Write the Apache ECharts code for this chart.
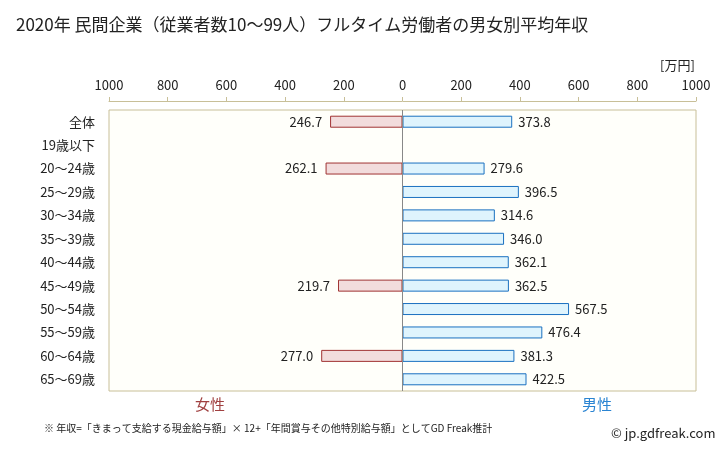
<!DOCTYPE html>
<html><head><meta charset="utf-8">
<script src="https://cdn.jsdelivr.net/npm/echarts@6/dist/echarts.min.js"></script>
<style>html,body{margin:0;padding:0;background:#fff}#c{width:728px;height:451px}</style>
</head><body><div id="c"></div>
<script>
const categories = ['全体','19歳以下','20〜24歳','25〜29歳','30〜34歳','35〜39歳','40〜44歳','45〜49歳','50〜54歳','55〜59歳','60〜64歳','65〜69歳'];
const femaleValues = [246.7, null, 262.1, null, null, null, null, 219.7, null, null, 277.0, null];
const maleValues = [373.8, null, 279.6, 396.5, 314.6, 346.0, 362.1, 362.5, 567.5, 476.4, 381.3, 422.5];
const tickValues = [-1000,-800,-600,-400,-200,0,200,400,600,800,1000];

const FONT = '"Noto Sans CJK JP", "Noto Sans", sans-serif';
const chart = echarts.init(document.getElementById('c'), null, {renderer:'canvas'});
chart.setOption({
  animation: false,
  textStyle: {fontFamily: FONT},
  title: {text: '2020年 民間企業（従業者数10〜99人）フルタイム労働者の男女別平均年収', left: 11, top: 11,
    textStyle: {fontSize: 17, fontWeight: 'normal', color: '#222', fontFamily: FONT}},
  grid: {left: 109, right: 32, top: 110, bottom: 60, show: true, borderColor: '#c8bf98', borderWidth: 1, backgroundColor: '#fffffa'},
  xAxis: {type: 'value', min: -1000, max: 1000, interval: 200, position: 'top', offset: 9,
    axisLine: {show: true, lineStyle: {color: '#c8bf98'}},
    axisTick: {show: true, length: 4, lineStyle: {color: '#c8bf98'}},
    splitLine: {show: false},
    axisLabel: {margin: 9, fontSize: 13, color: '#222', fontFamily: FONT, formatter: v => Math.abs(v)}},
  yAxis: {type: 'category', data: categories, inverse: true,
    axisLine: {show: false}, axisTick: {show: false}, splitLine: {show: false},
    axisLabel: {margin: 14, fontSize: 13, color: '#222', fontFamily: FONT}},
  graphic: [
    {type: 'text', left: 660, top: 59, style: {text: '[万円]', fontSize: 13, fill: '#222', fontFamily: FONT}},
    {type: 'text', left: 195, top: 397, style: {text: '女性', fontSize: 15, fill: '#a04040', fontFamily: FONT}},
    {type: 'text', left: 582, top: 397, style: {text: '男性', fontSize: 15, fill: '#2a84d2', fontFamily: FONT}},
    {type: 'text', left: 44, top: 423, style: {text: '※ 年収=「きまって支給する現金給与額」× 12+「年間賞与その他特別給与額」としてGD Freak推計', fontSize: 10, fill: '#222', fontFamily: FONT}},
    {type: 'text', left: 611, top: 427, style: {text: '© jp.gdfreak.com', fontSize: 13, fill: '#222', fontFamily: FONT}}
  ],
  series: [
    {name: '女性', type: 'bar', data: femaleValues.map(v => v == null ? null : -v), barWidth: 12, barGap: '-100%',
      itemStyle: {color: '#f2dcdc', borderColor: '#a03333', borderWidth: 1},
      label: {show: true, position: 'left', distance: 8, fontSize: 13, color: '#222', fontFamily: FONT,
        formatter: p => Math.abs(p.value).toFixed(1)},
      markLine: {silent: true, symbol: 'none', label: {show: false}, lineStyle: {color: '#888', type: 'solid', width: 1},
        data: [{xAxis: 0}]}},
    {name: '男性', type: 'bar', data: maleValues, barWidth: 12,
      itemStyle: {color: '#dff4fd', borderColor: '#1a70c0', borderWidth: 1},
      label: {show: true, position: 'right', distance: 6, fontSize: 13, color: '#222', fontFamily: FONT,
        formatter: p => p.value.toFixed(1)}}
  ]
});
</script></body></html>
